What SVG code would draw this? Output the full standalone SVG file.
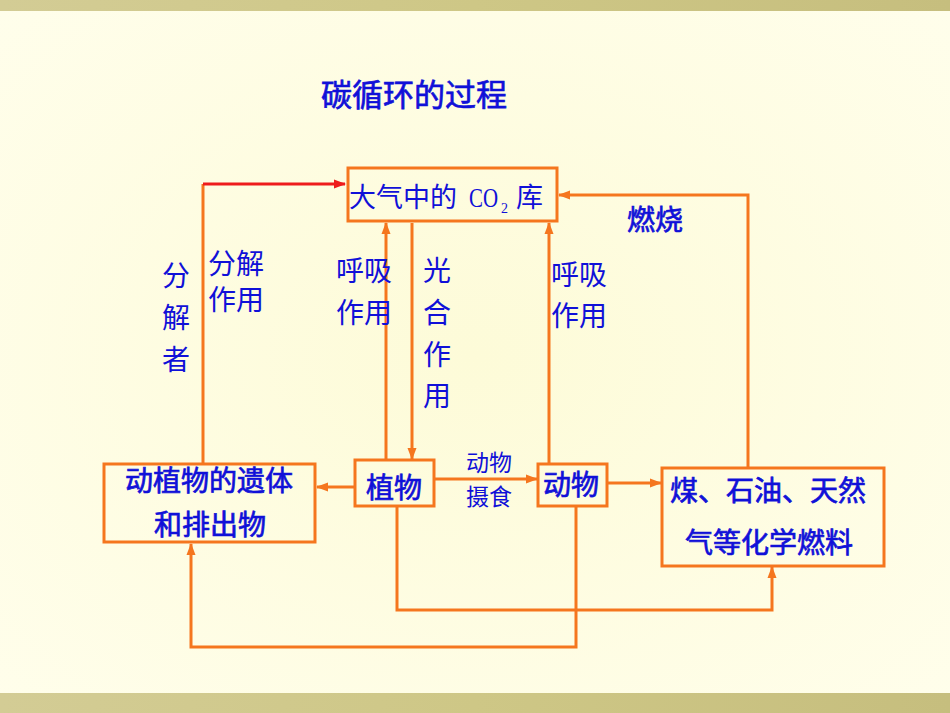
<svg xmlns="http://www.w3.org/2000/svg" width="950" height="713" viewBox="0 0 950 713">
<defs>
<style>
.t{font-family:"Noto Sans CJK SC","Liberation Sans",sans-serif;fill:#1010D8;font-size:28px}
.b{stroke:#1010D8;stroke-width:0.7px}
.box{fill:none;stroke:#F5761E;stroke-width:3}
.ln{fill:none;stroke:#F5761E;stroke-width:3}
.red{fill:none;stroke:#EE1C1C;stroke-width:3}
</style>
<marker id="ao" markerUnits="userSpaceOnUse" markerWidth="12" markerHeight="10" refX="11" refY="5" orient="auto"><path d="M0,0.5 L12,5 L0,9.5 z" fill="#F5761E"/></marker>
<marker id="ar" markerUnits="userSpaceOnUse" markerWidth="12" markerHeight="10" refX="11" refY="5" orient="auto"><path d="M0,0.5 L12,5 L0,9.5 z" fill="#EE1C1C"/></marker>
<linearGradient id="bar" x1="0" y1="0" x2="1" y2="0"><stop offset="0" stop-color="#D3CC95"/><stop offset="0.5" stop-color="#CEC786"/><stop offset="1" stop-color="#C6BE7E"/></linearGradient>
<radialGradient id="bg" cx="0.5" cy="0.5" r="0.7"><stop offset="0" stop-color="#FDFBD8"/><stop offset="1" stop-color="#FFFEEB"/></radialGradient>
</defs>
<rect x="0" y="0" width="950" height="713" fill="url(#bg)"/>
<rect x="0" y="0" width="950" height="11" fill="url(#bar)"/>
<rect x="0" y="693" width="950" height="20" fill="url(#bar)"/>
<text class="t b" x="321" y="106" style="font-size:31px">碳循环的过程</text>
<g id="connectors">
<path class="ln" d="M203,463 V184"/>
<path class="red" d="M203,184 H345" marker-end="url(#ar)"/>
<path class="ln" d="M386,460 V223" marker-end="url(#ao)"/>
<path class="ln" d="M412,223 V459" marker-end="url(#ao)"/>
<path class="ln" d="M549,464 V223" marker-end="url(#ao)"/>
<path class="ln" d="M748,468 V195 H559" marker-end="url(#ao)"/>
<path class="ln" d="M355,487 H317" marker-end="url(#ao)"/>
<path class="ln" d="M434,479 H537" marker-end="url(#ao)"/>
<path class="ln" d="M607,483 H661" marker-end="url(#ao)"/>
<path class="ln" d="M397,506 V610 H772 V567" marker-end="url(#ao)"/>
<path class="ln" d="M576,506 V647 H191 V544" marker-end="url(#ao)"/>
</g>
<g id="co2">
<rect class="box" x="348" y="168" width="209" height="53"/>
<text class="t" x="349" y="207" style="font-size:27px">大气中的<tspan x="469" textLength="29" lengthAdjust="spacingAndGlyphs" style="font-family:'Liberation Serif',serif">CO</tspan><tspan x="501" y="213" style="font-size:14px;font-family:'Liberation Serif',serif">2</tspan><tspan x="516" y="207">库</tspan></text>
</g>
<g id="remains">
<rect class="box" x="104" y="464" width="211" height="78"/>
<text class="t b" x="209" y="491" text-anchor="middle">动植物的遗体</text>
<text class="t b" x="210" y="535" text-anchor="middle">和排出物</text>
</g>
<g id="plant">
<rect class="box" x="355" y="460" width="79" height="46"/>
<text class="t b" x="394" y="498" text-anchor="middle">植物</text>
</g>
<g id="animal">
<rect class="box" x="538" y="464" width="69" height="42"/>
<text class="t b" x="571" y="495" text-anchor="middle">动物</text>
</g>
<g id="fuel">
<rect class="box" x="662" y="468" width="222" height="98"/>
<text class="t b" x="768" y="501" text-anchor="middle">煤、石油、天然</text>
<text class="t b" x="769" y="553" text-anchor="middle">气等化学燃料</text>
</g>
<g id="labels">
<text class="t b" x="655" y="230" text-anchor="middle">燃烧</text>
<text class="t" x="551" y="285">呼吸</text>
<text class="t" x="551" y="326">作用</text>
<text class="t" x="336" y="281">呼吸</text>
<text class="t" x="336" y="323">作用</text>
<text class="t" x="208" y="274">分解</text>
<text class="t" x="208" y="310">作用</text>
<text class="t" x="162" y="286">分</text>
<text class="t" x="162" y="328">解</text>
<text class="t" x="162" y="370">者</text>
<text class="t" x="423" y="281">光</text>
<text class="t" x="423" y="323">合</text>
<text class="t" x="423" y="365">作</text>
<text class="t" x="423" y="406">用</text>
<text class="t" x="489" y="471" text-anchor="middle" style="font-size:23px">动物</text>
<text class="t" x="489" y="505" text-anchor="middle" style="font-size:23px">摄食</text>
</g>
</svg>
